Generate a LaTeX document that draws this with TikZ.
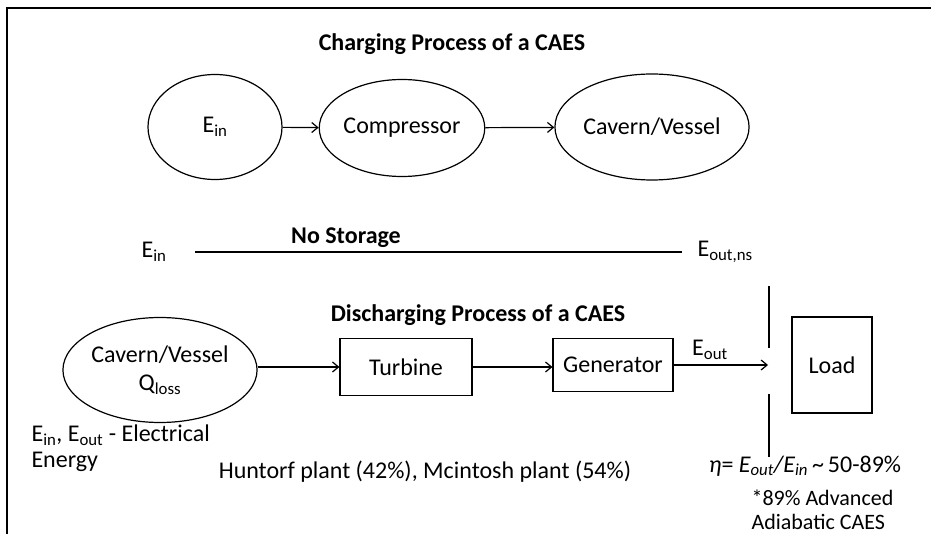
\documentclass[tikz,border=0pt]{standalone}
\usepackage{fontspec}
\setmainfont{Carlito}
\usetikzlibrary{shapes.geometric,arrows.meta}
\newcommand{\lowtx}[1]{\textsubscript{#1}}
\tikzset{
  every node/.style={font=\fontsize{24}{28}\selectfont},
  ttl/.style={font=\fontsize{24}{28}\selectfont\bfseries},
  proc/.style={draw,ellipse,line width=1.2pt,inner sep=0pt},
  blok/.style={draw,rectangle,line width=1.2pt,inner sep=0pt},
  flow/.style={line width=1.2pt,-{Straight Barb[length=6pt,width=10pt]}},
  plain/.style={line width=1.2pt},
}
\begin{document}
\begin{tikzpicture}[x=1pt,y=-1pt]
  \useasboundingbox (0,0) rectangle (931,534);
  % frame
  \draw[line width=2pt] (7,534) -- (7,8) -- (931,8);

  % charging
  \node[ttl] (chgt) at (452,44) {Charging Process of a CAES};
  \node[proc,minimum width=134pt,minimum height=105pt] (ein) at (215,127) {E\lowtx{in}};
  \node[proc,minimum width=134pt,minimum height=97pt] (comp) at (402,128) {Compressor};
  \node[proc,minimum width=152pt,minimum height=106pt] (cav) at (652,127) {Cavern/Vessel};
  \draw[flow] (ein) -- (comp);
  \draw[flow] (comp) -- (cav);

  % no storage
  \node[anchor=west] (einn) at (138,252) {E\lowtx{in}};
  \node[anchor=west] (eoutns) at (694,252) {E\lowtx{out,ns}};
  \node[ttl] (nost) at (346,238) {No Storage};
  \draw[plain,shorten <=25pt,shorten >=12pt] (einn) -- (eoutns);

  % discharging
  \node[ttl] (dist) at (478,315) {Discharging Process of a CAES};
  \node[proc,minimum width=172pt,minimum height=105pt,align=center] (cavd) at (160,370)
    {Cavern/Vessel\\Q\lowtx{loss}};
  \node[blok,minimum width=132pt,minimum height=57pt] (turb) at (406,367) {Turbine};
  \node[blok,minimum width=120pt,minimum height=53pt] (gen) at (613,365) {Generator};
  \node[blok,minimum width=80pt,minimum height=96pt] (load) at (832,365) {Load};
  \coordinate (tip) at (768,365);
  \draw[flow] (cavd.east |- turb) -- (turb);
  \draw[flow] (turb) -- (gen.west |- turb);
  \draw[flow] (gen) -- (tip);
  \node (eout) at (710,350) {E\lowtx{out}};
  \coordinate (sa) at (769,286);
  \coordinate (sb) at (769,348);
  \coordinate (sc) at (769,394);
  \coordinate (sd) at (769,457);
  \draw[plain] (sa) -- (sb);
  \draw[plain] (sc) -- (sd);

  % notes
  \node[anchor=west] (elec) at (28,435) {E\lowtx{in}, E\lowtx{out} - Electrical};
  \node[anchor=west] (enrg) at (28,462) {Energy};
  \node (hunt) at (425,472) {Huntorf plant (42\%), Mcintosh plant (54\%)};
  \node (eta) at (805,466) {\itshape η\upshape= \itshape E\lowtx{out}/E\lowtx{in}\upshape\,\textasciitilde\,50-89\%};
  \node[anchor=west,font=\fontsize{22}{26}\selectfont] (adv) at (748,498) {*89\% Advanced};
  \node[anchor=west,font=\fontsize{22}{26}\selectfont] (adia) at (748,522) {Adiabatic CAES};
\end{tikzpicture}
\end{document}
